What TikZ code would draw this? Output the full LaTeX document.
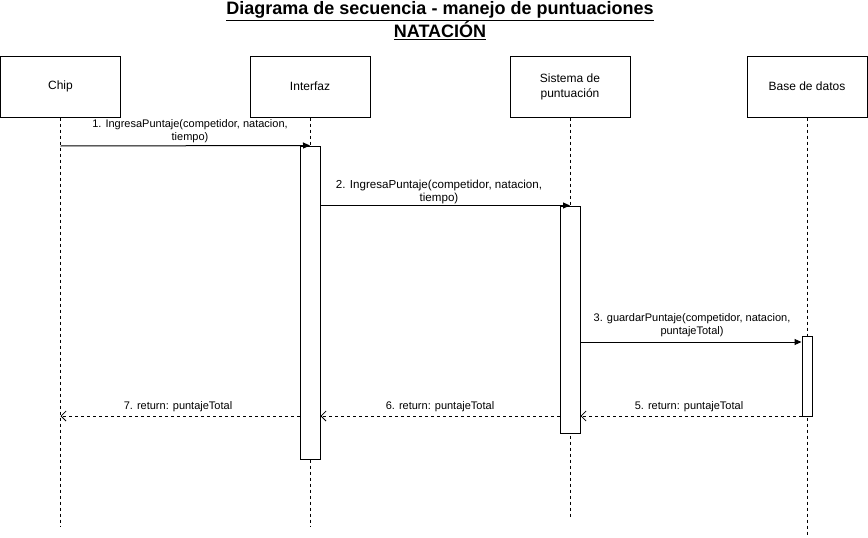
\documentclass[tikz,border=0pt]{standalone}
\usepackage{fontspec}
\setmainfont{Liberation Sans}
\usetikzlibrary{arrows.meta}
\begin{document}
\begin{tikzpicture}[x=1pt,y=-1pt,
 actor/.style={draw, line width=1pt, minimum width=120pt, minimum height=61pt, align=center, inner sep=0pt, font=\fontsize{12}{15}\selectfont},
 bar/.style={draw, line width=1pt, fill=white, minimum width=20pt, inner sep=0pt},
 life/.style={dash pattern=on 3pt off 3pt, line width=0.8pt},
 call/.style={-{Triangle[length=7pt,width=6pt]}, line width=1pt},
 ret/.style={dash pattern=on 3pt off 3pt, -{Straight Barb[length=5pt,width=10pt]}, line width=0.8pt},
 lbl/.style={font=\fontsize{11}{13}\selectfont, align=center, inner sep=0pt},
 ttl/.style={font=\bfseries\fontsize{18}{20}\selectfont, inner sep=0pt}]
\useasboundingbox (0,0) rectangle (868,538);
% title
\node[ttl] (t1) at (440,11) {\underline{Diagrama de secuencia - manejo de puntuaciones}};
\node[ttl] (t2) at (440,31) {\underline{NATACIÓN}};
% actors
\node[actor] (chip) at (60.5,86.5) {Chip};
\node[actor] (interfaz) at (310,86.5) {Interfaz};
\node[actor] (sistema) at (570,86.5) {Sistema de\\puntuación};
\node[actor] (base) at (807,86.5) {Base de datos};
% lifeline ends
\coordinate (chipEnd) at (60.5,527);
\coordinate (intEnd) at (310,527);
\coordinate (sisEnd) at (570,517);
\coordinate (baseEnd) at (807,537);
\draw[life] (chip.south) -- (chipEnd);
\draw[life] (interfaz.south) -- (intEnd);
\draw[life] (sistema.south) -- (sisEnd);
\draw[life] (base.south) -- (baseEnd);
% activation bars
\node[bar, minimum height=313pt] (actI) at (310,302.5) {};
\node[bar, minimum height=227pt] (actS) at (570,319.5) {};
\node[bar, minimum width=10pt, minimum height=80pt] (actB) at (807,376) {};
% messages
\coordinate (m1s) at (60.5,146);
\coordinate (m3y) at (0,342);
\coordinate (r1y) at (0,416);
\draw[call] (m1s) -- (actI.north);
\draw[call] (actI.east |- actS.north) -- (actS.north);
\draw[call] (actS.east |- m3y) -- (actB.west |- m3y);
\draw[ret] (actB.west |- r1y) -- (actS.east |- r1y);
\draw[ret] (actS.west |- r1y) -- (actI.east |- r1y);
\draw[ret] (actI.west |- r1y) -- (chip.south |- r1y);
% labels
\node[lbl] (l1) at (190,131) {1. IngresaPuntaje(competidor, natacion,\\tiempo)};
\node[lbl, font=\fontsize{11.6}{13}\selectfont] (l2) at (439,192) {2. IngresaPuntaje(competidor, natacion,\\tiempo)};
\node[lbl] (l3) at (692,325) {3. guardarPuntaje(competidor, natacion,\\puntajeTotal)};
\node[lbl] (l5) at (689,407) {5. return: puntajeTotal};
\node[lbl] (l6) at (440,407) {6. return: puntajeTotal};
\node[lbl] (l7) at (178,407) {7. return: puntajeTotal};
\end{tikzpicture}
\end{document}
